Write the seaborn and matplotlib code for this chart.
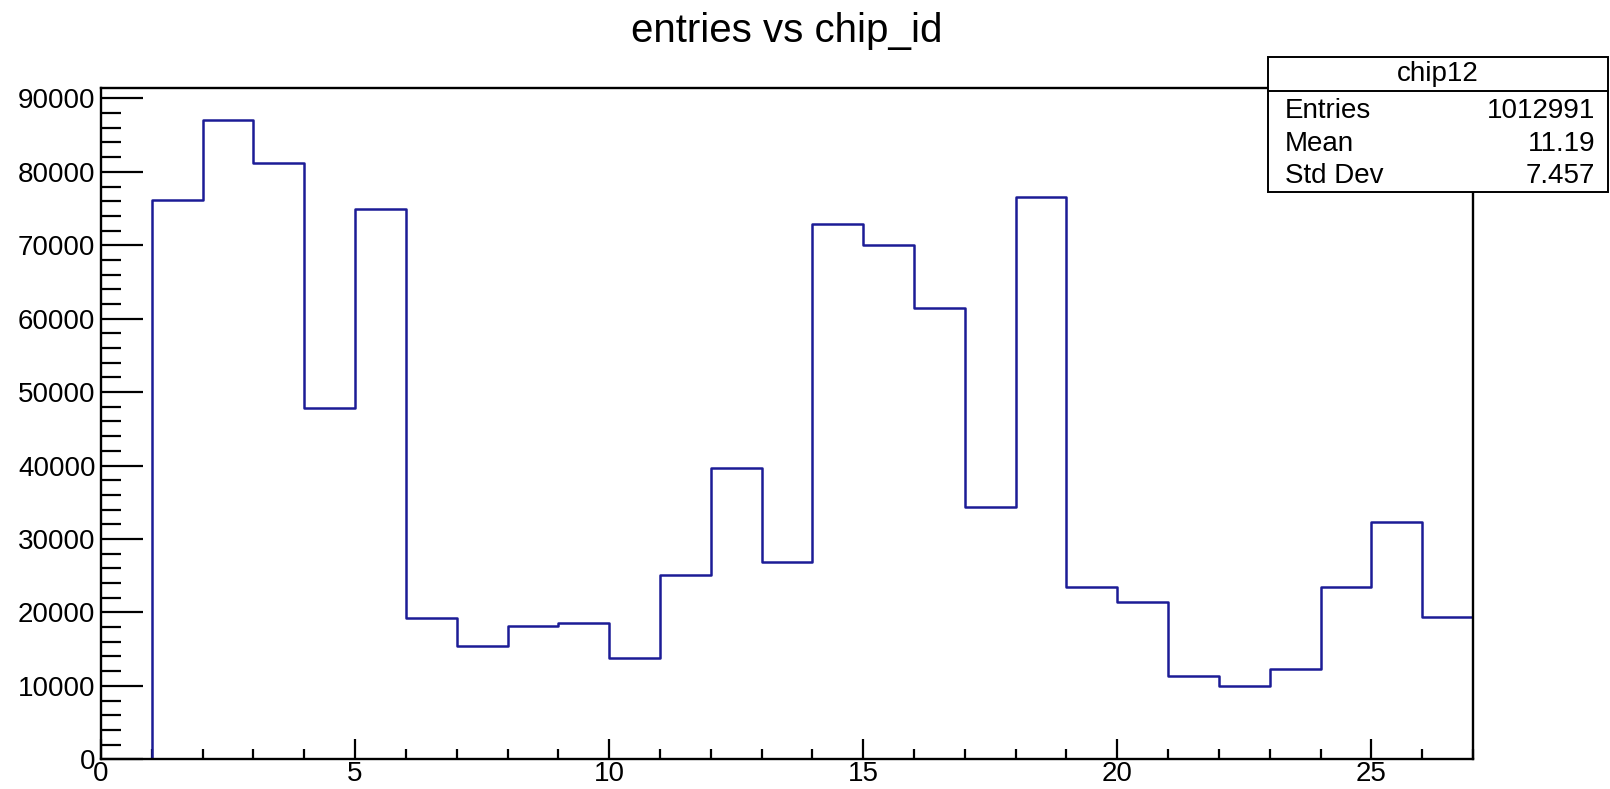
import numpy as np
import pandas as pd
import matplotlib
matplotlib.use("Agg")
import matplotlib.pyplot as plt
from matplotlib.patches import Rectangle
from matplotlib.lines import Line2D
from matplotlib.ticker import MultipleLocator
import seaborn as sns

# ---- data ----
chip_id = list(range(0, 27))
entries = [0, 76200, 87100, 81200, 47900, 75000, 19300, 15400, 18100, 18500,
           13800, 25100, 39600, 26900, 72900, 70100, 61500, 34400, 76600, 23400,
           21400, 11400, 10000, 12300, 23400, 32300, 19400]
bin_edges = list(range(0, 28))
title = "entries vs chip_id"
stats_name = "chip12"
stats_labels = ["Entries", "Mean", "Std Dev"]
stats_values = ["1012991", "11.19", "7.457"]
x_major_ticks = [0, 5, 10, 15, 20, 25]

df = pd.DataFrame({"chip_id": chip_id, "entries": entries})

sns.set_theme(style="ticks")
plt.rcParams["font.family"] = ["Liberation Sans", "DejaVu Sans"]

W, H = 1610, 789
fig = plt.figure(figsize=(W / 100, H / 100), dpi=100)
fig.patch.set_facecolor("white")

ax_left, ax_right = 101 / W, 1473 / W
ax_bottom, ax_top = 1 - 759.3 / H, 1 - 87.7 / H
ax = fig.add_axes([ax_left, ax_bottom, ax_right - ax_left, ax_top - ax_bottom])
ax.set_facecolor("white")

line_color = "#1c1c96"
sns.histplot(data=df, x="chip_id", weights="entries", bins=bin_edges,
             element="step", fill=False, color=line_color, linewidth=1.8, ax=ax,
             zorder=2)

ax.set_xlim(bin_edges[0], bin_edges[-1])
ax.set_ylim(0, 1.05 * max(entries))
ax.set_xlabel("")
ax.set_ylabel("")

for s in ax.spines.values():
    s.set_visible(True)
    s.set_color("black")
    s.set_linewidth(1.7)
    s.set_zorder(3)

ax.set_xticks(x_major_ticks)
ax.xaxis.set_minor_locator(MultipleLocator(1))
ax.yaxis.set_major_locator(MultipleLocator(10000))
ax.yaxis.set_minor_locator(MultipleLocator(2000))
ax.tick_params(axis="both", which="both", direction="in", color="black",
               width=1.6, labelsize=20, labelcolor="black")
ax.tick_params(axis="y", which="major", length=30, pad=4)
ax.tick_params(axis="y", which="minor", length=14.5)
ax.tick_params(axis="x", which="major", length=14.5, pad=1.5)
ax.tick_params(axis="x", which="minor", length=7.2)
ax.tick_params(top=False, right=False, which="both")

# title
fig.text(786.7 / W, 1 - 41.7 / H, title, ha="center", va="baseline",
         fontsize=29, color="black")

# stats box
bx0, bx1 = 1268.3 / W, 1608 / W
by0, by1 = 1 - 191.7 / H, 1 - 57.3 / H
sep = 1 - 90.7 / H
fig.add_artist(Rectangle((bx0, by0), bx1 - bx0, by1 - by0, transform=fig.transFigure,
                         facecolor="white", edgecolor="black", linewidth=1.4, zorder=10))
fig.add_artist(Line2D([bx0, bx1], [sep, sep], transform=fig.transFigure,
                      color="black", linewidth=1.4, zorder=11))
fig.text((bx0 + bx1) / 2, (sep + by1) / 2, stats_name, ha="center", va="center",
         fontsize=20, color="black", zorder=12)
row_baselines = [118.3, 151.0, 183.3]
for lab, val, yb in zip(stats_labels, stats_values, row_baselines):
    fig.text(1285 / W, 1 - yb / H, lab, ha="left", va="baseline", fontsize=20,
             color="black", zorder=12)
    fig.text(1595 / W, 1 - yb / H, val, ha="right", va="baseline", fontsize=20,
             color="black", zorder=12)

fig.savefig("out.png", dpi=100, facecolor="white")
